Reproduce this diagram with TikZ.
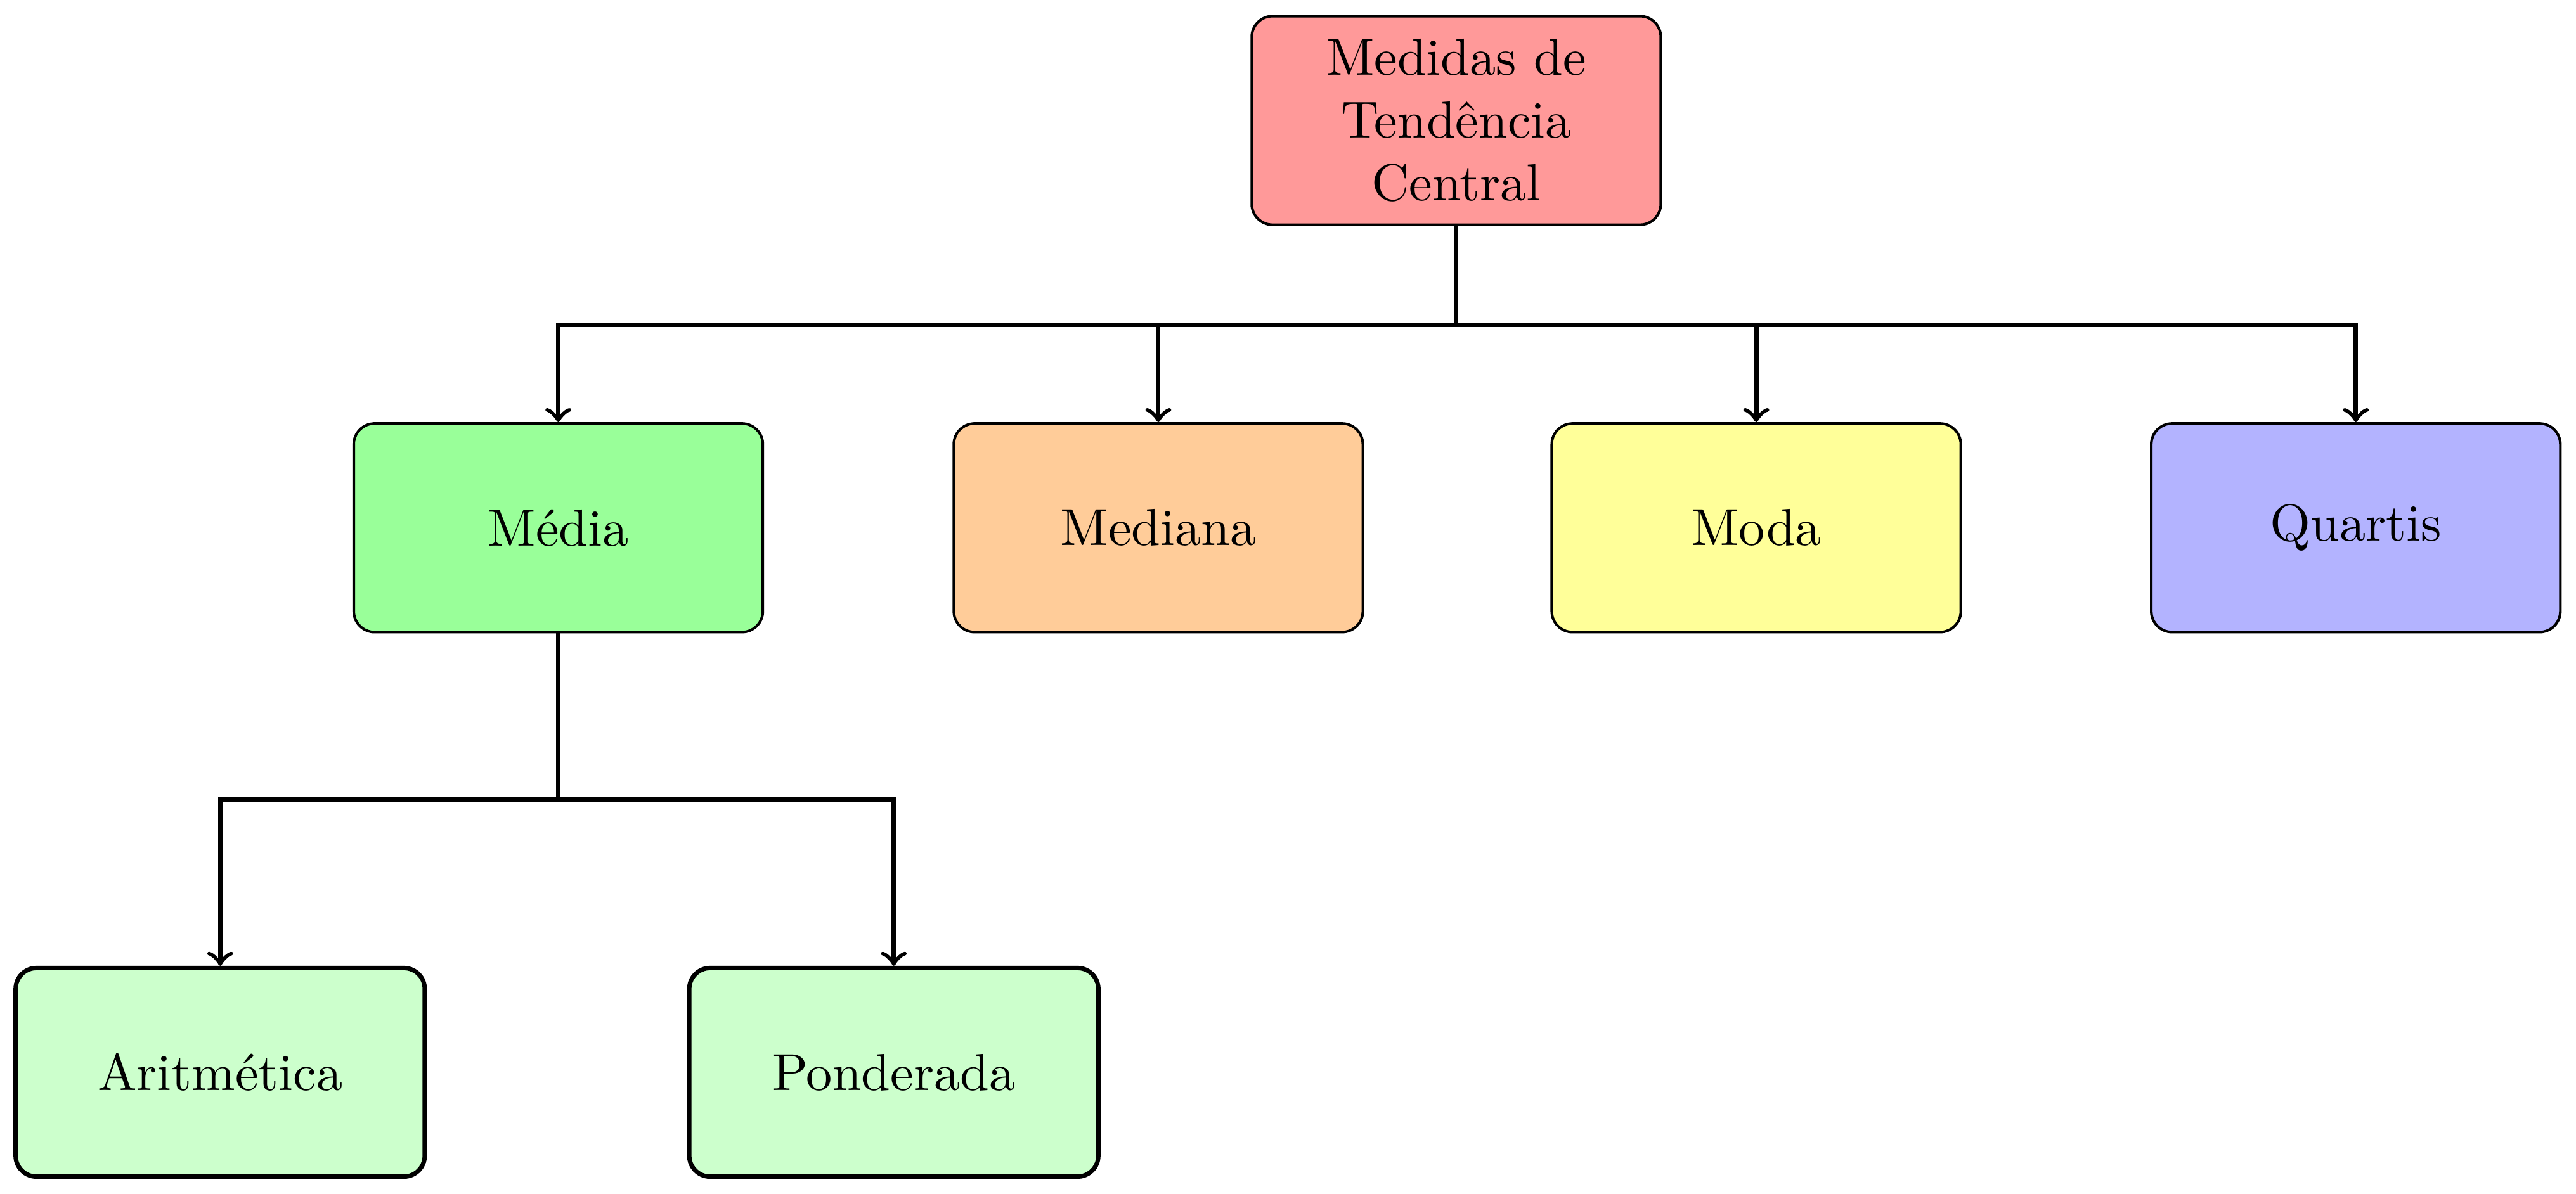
\documentclass[tikz,border=0pt]{standalone}
\usetikzlibrary{calc}
\definecolor{cRed}{RGB}{255,153,153}
\definecolor{cGreen}{RGB}{153,255,153}
\definecolor{cOrange}{RGB}{255,204,153}
\definecolor{cYellow}{RGB}{255,255,153}
\definecolor{cBlue}{RGB}{179,179,255}
\definecolor{cLight}{RGB}{204,255,204}
\tikzset{
  boxbase/.style={draw, rounded corners=4pt, minimum width=78.4pt, minimum height=40pt, align=center, inner sep=2pt},
  lvlone/.style={boxbase, line width=0.5pt},
  lvltwo/.style={boxbase, line width=0.5pt},
  lvlthree/.style={boxbase, line width=0.85pt},
  conn/.style={line width=0.85pt, ->},
}
\begin{document}
\begin{tikzpicture}
\useasboundingbox (0,0) rectangle (493.7pt,-228.9pt);
\node[lvlone, fill=cRed] (top) at (279.1pt,-23.1pt) {Medidas de\\Tendência\\Central};
\node[lvltwo, fill=cGreen] (media) at (107.0pt,-101.2pt) {Média};
\node[lvltwo, fill=cOrange] (mediana) at (222.0pt,-101.2pt) {Mediana};
\node[lvltwo, fill=cYellow] (moda) at (336.6pt,-101.2pt) {Moda};
\node[lvltwo, fill=cBlue] (quartis) at (451.5pt,-101.2pt) {Quartis};
\node[lvlthree, fill=cLight] (arit) at (42.2pt,-205.6pt) {Aritmética};
\node[lvlthree, fill=cLight] (pond) at (171.3pt,-205.6pt) {Ponderada};
\coordinate (busA) at (279.1pt,-62.3pt);
\coordinate (busB) at (107.0pt,-153.3pt);
\foreach \n in {media,mediana,moda,quartis}
  \draw[conn] (top.south) -- (busA) -| (\n.north);
\foreach \n in {arit,pond}
  \draw[conn] (media.south) -- (busB) -| (\n.north);
\end{tikzpicture}
\end{document}
